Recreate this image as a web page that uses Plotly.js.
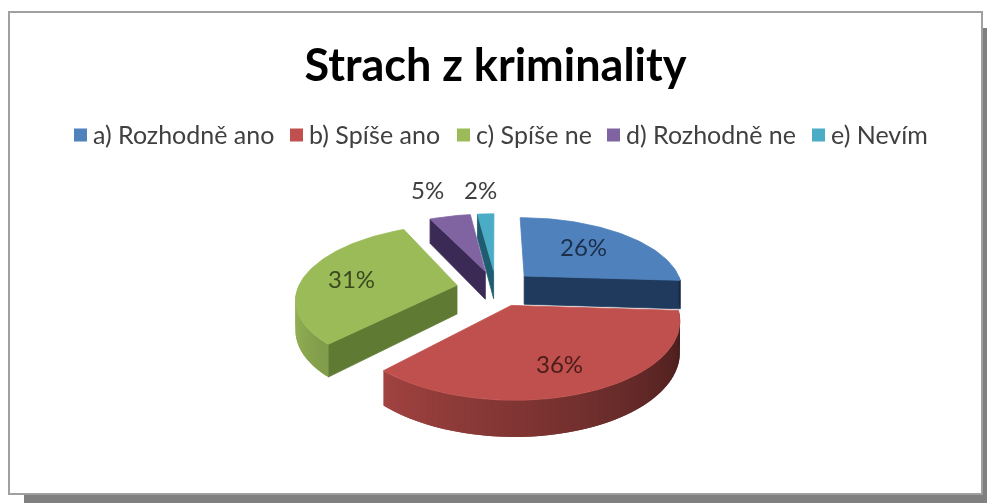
<!DOCTYPE html>
<html><head><meta charset="utf-8">
<script src="https://cdn.plot.ly/plotly-3.0.1.min.js"></script>
<style>html,body{margin:0;padding:0;background:#fff}#c{width:987px;height:504px;filter:blur(0.5px)}</style>
</head><body><div id="c"></div>
<script>
const categories = ['a) Rozhodně ano','b) Spíše ano','c) Spíše ne','d) Rozhodně ne','e) Nevím'];
const values = [26,36,31,5,2];
const titleText = 'Strach z kriminality';

const topColors = ['#4F81BD','#C0504D','#9BBB59','#8064A2','#4BACC6'];
const cutColors = ['#1F3A5C','#5a2220','#5F7A33','#3A2A55','#1F5C70'];
const FONT = 'Lato, Carlito, sans-serif';

// projection of the tilted pie onto the page
const P = {cx:496, cy:288, A:159, B:72, k:0.17, D:29, pull:0.25};
function proj(u,v,z){const s=1/(1-P.k*v);return [P.cx+P.A*u*s, P.cy+(P.B*v+P.D*z)*s];}
const rad=d=>d*Math.PI/180;
function rgb(hex,f){const n=parseInt(hex.slice(1),16);
  return `rgb(${Math.round(((n>>16)&255)*f)},${Math.round(((n>>8)&255)*f)},${Math.round((n&255)*f)})`;}
const wallShade=t=>Math.min(1.02,0.33+(t-93)*0.00385);

const total=values.reduce((a,b)=>a+b,0);
let start=0;
const slices=values.map((val,i)=>{
  const end=start+val/total*360, mid=(start+end)/2;
  const s={i,start,end,mid,u0:P.pull*Math.sin(rad(mid)),v0:-P.pull*Math.cos(rad(mid))};
  start=end; return s;
});
const rim=(s,t,z)=>proj(s.u0+Math.sin(rad(t)),s.v0-Math.cos(rad(t)),z);
function poly(pts,color,width){
  return {type:'scatter',mode:'lines',x:pts.map(p=>p[0]),y:pts.map(p=>p[1]),
    fill:'toself',fillcolor:color,line:{color:color,width:width},hoverinfo:'skip',showlegend:false};
}
const traces=[];
[0,4,3,2,1].forEach(idx=>{
  const s=slices[idx];
  const apexT=proj(s.u0,s.v0,0), apexB=proj(s.u0,s.v0,1);
  if(s.end<180) traces.push(poly([apexT,rim(s,s.end,0),rim(s,s.end,1),apexB,apexT],cutColors[idx],0.8));
  if(s.start>180) traces.push(poly([apexT,rim(s,s.start,0),rim(s,s.start,1),apexB,apexT],cutColors[idx],0.8));
  const a=Math.max(s.start,90), b=Math.min(s.end,270);
  // wall strips overlap the next strip, so no seams show between them
  const strips=[];
  for(let t=a;t<b;t+=2) strips.push(t);
  if(idx===2) strips.reverse();
  strips.forEach(t=>{
    const lo=Math.max(a,t-1), hi=Math.min(t+3,b);
    traces.push(poly([rim(s,lo,0),rim(s,hi,0),rim(s,hi,1),rim(s,lo,1),rim(s,lo,0)],rgb(topColors[idx],wallShade(t+1)),0));
  });
  const top=[apexT];
  for(let t=s.start;t<s.end;t+=1.5) top.push(rim(s,t,0));
  top.push(rim(s,s.end,0),apexT);
  traces.push(poly(top,topColors[idx],0.8));
});

// legend row, laid out to the reference's tighter swatch/text spacing
const legendLeft=[74,290,457,607,812];
const LEGEND_Y=135, SWATCH=13, SWATCH_GAP=7;
traces.push({type:'scatter',mode:'markers',x:legendLeft.map(x=>x+SWATCH/2),y:categories.map(()=>LEGEND_Y),
  marker:{symbol:'square',size:SWATCH,color:topColors},hoverinfo:'skip',showlegend:false});
const legendLabels=categories.map((c,i)=>({x:legendLeft[i]+SWATCH+SWATCH_GAP,y:LEGEND_Y-1,xanchor:'left',xshift:-3,text:c,
  showarrow:false,xref:'x',yref:'y',font:{family:FONT,size:25,color:'#404040'}}));

// data labels placed along each slice's bisector, then nudged
const labelR=[0.55,0.62,0.62,1.3,1.3];
const labelDX=[3,4,-11,-14,-3];
const labelDY=[-5,8,0,-13,-10];
const labelColors=['#1b2f4a','#4a1c1a','#3a4a1e','#404040','#404040'];
const dataLabels=slices.map((s,i)=>{
  const p=proj(s.u0+labelR[i]*Math.sin(rad(s.mid)),s.v0-labelR[i]*Math.cos(rad(s.mid)),0);
  return {x:p[0]+labelDX[i],y:p[1]+labelDY[i],text:values[i]+'%',showarrow:false,xref:'x',yref:'y',
    font:{family:FONT,size:24,color:labelColors[i]}};
});

const layout={
  width:987,height:504,margin:{l:0,r:0,t:0,b:0},paper_bgcolor:'#fff',plot_bgcolor:'rgba(0,0,0,0)',
  xaxis:{range:[0,987],visible:false,fixedrange:true},
  yaxis:{range:[504,0],visible:false,fixedrange:true},
  showlegend:false,
  title:{text:'<b>'+titleText+'</b>',x:495.5/987,xanchor:'center',y:1-65/504,yanchor:'middle',
    font:{family:FONT,size:45,color:'#000'}},
  shapes:[
    {type:'rect',layer:'below',x0:24,x1:987,y0:28,y1:503,fillcolor:'#808080',line:{width:0}},
    {type:'rect',layer:'below',x0:9,x1:982,y0:12,y1:494,fillcolor:'#fff',line:{color:'#a0a0a0',width:2}}
  ],
  annotations:legendLabels.concat(dataLabels)
};
Plotly.newPlot('c',traces,layout,{displayModeBar:false,staticPlot:true});
</script></body></html>
